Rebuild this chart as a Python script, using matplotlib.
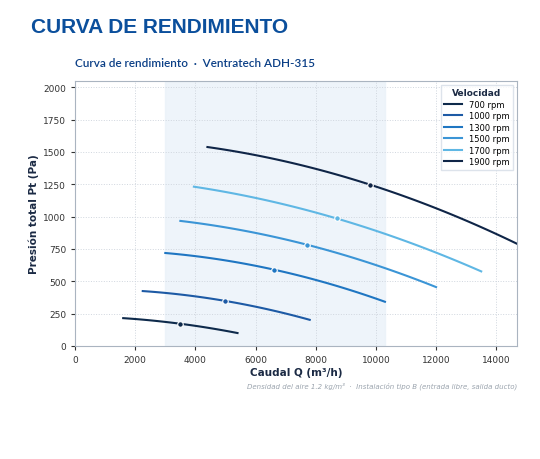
import numpy as np
import matplotlib.pyplot as plt

speeds = ["700 rpm", "1000 rpm", "1300 rpm", "1500 rpm", "1700 rpm", "1900 rpm"]
colors = ["#0e2a4b", "#1d5aa5", "#1f76c2", "#3b95d6", "#5fb7e4", "#0f2547"]

flows = [
    [1600, 2500, 3500, 4500, 5400],
    [2250, 3500, 5000, 6500, 7800],
    [3000, 4500, 6600, 8500, 10300],
    [3500, 5500, 7700, 10000, 12000],
    [3950, 6300, 8700, 11000, 13500],
    [4400, 7000, 9800, 12500, 14700],
]
pressures = [
    [213, 200, 170, 135, 100],
    [425, 395, 347, 280, 200],
    [718, 680, 587, 480, 340],
    [965, 900, 780, 625, 455],
    [1228, 1135, 988, 800, 580],
    [1537, 1430, 1243, 1020, 788],
]
# operating point per curve = middle entry
op_index = 2

band = (3000, 10300)

fig = plt.figure(figsize=(5.4, 4.6), dpi=100)
ax = fig.add_axes([0.139, 0.246, 0.819, 0.576])

ax.axvspan(*band, color="#eaf2f9", alpha=0.8, zorder=0)
for name, c, xs, ys in zip(speeds, colors, flows, pressures):
    coef = np.polyfit(xs, ys, 2)
    xx = np.linspace(xs[0], xs[-1], 100)
    ax.plot(xx, np.polyval(coef, xx), color=c, lw=1.5, label=name, zorder=3)
    ax.plot(xs[op_index], ys[op_index], "o", color=c, ms=4, mec="white", mew=0.8, zorder=4)

ax.set_xlim(0, 14700)
ax.set_ylim(0, 2050)
ax.set_xticks(range(0, 14001, 2000))
ax.set_yticks(range(0, 2001, 250))
ax.grid(True, ls=":", color="#d0d6de", lw=0.7)
ax.tick_params(labelsize=6.5, colors="#333333", length=3)
for s in ax.spines.values():
    s.set_color("#aab4c0")
ax.set_xlabel("Caudal Q (m³/h)", fontsize=7.5, fontweight="bold", color="#1b2a44", labelpad=2)
ax.set_ylabel("Presión total Pt (Pa)", fontsize=7.5, fontweight="bold", color="#1b2a44", labelpad=3)

leg = ax.legend(loc="upper right", fontsize=6, title="Velocidad", frameon=True,
                handlelength=2.2, borderpad=0.4, labelspacing=0.3, fancybox=False)
leg.get_title().set_fontweight("bold")
leg.get_title().set_fontsize(6.5)
leg.get_title().set_color("#1b2a44")
leg.get_frame().set_edgecolor("#d5dde6")

fig.text(0.057, 0.928, "CURVA DE RENDIMIENTO", fontsize=15, fontweight="bold", color="#0b4f9c",
         family="Liberation Sans")
fig.text(0.139, 0.855, "Curva de rendimiento  ·  Ventratech ADH-315", fontsize=8.5,
         color="#0b3f86", family="Lato", fontweight="semibold")
fig.text(0.958, 0.155, "Densidad del aire 1.2 kg/m³  ·  Instalación tipo B (entrada libre, salida ducto)",
         fontsize=5, color="#9aa3ad", style="italic", ha="right")

fig.savefig("out.png", dpi=100)
